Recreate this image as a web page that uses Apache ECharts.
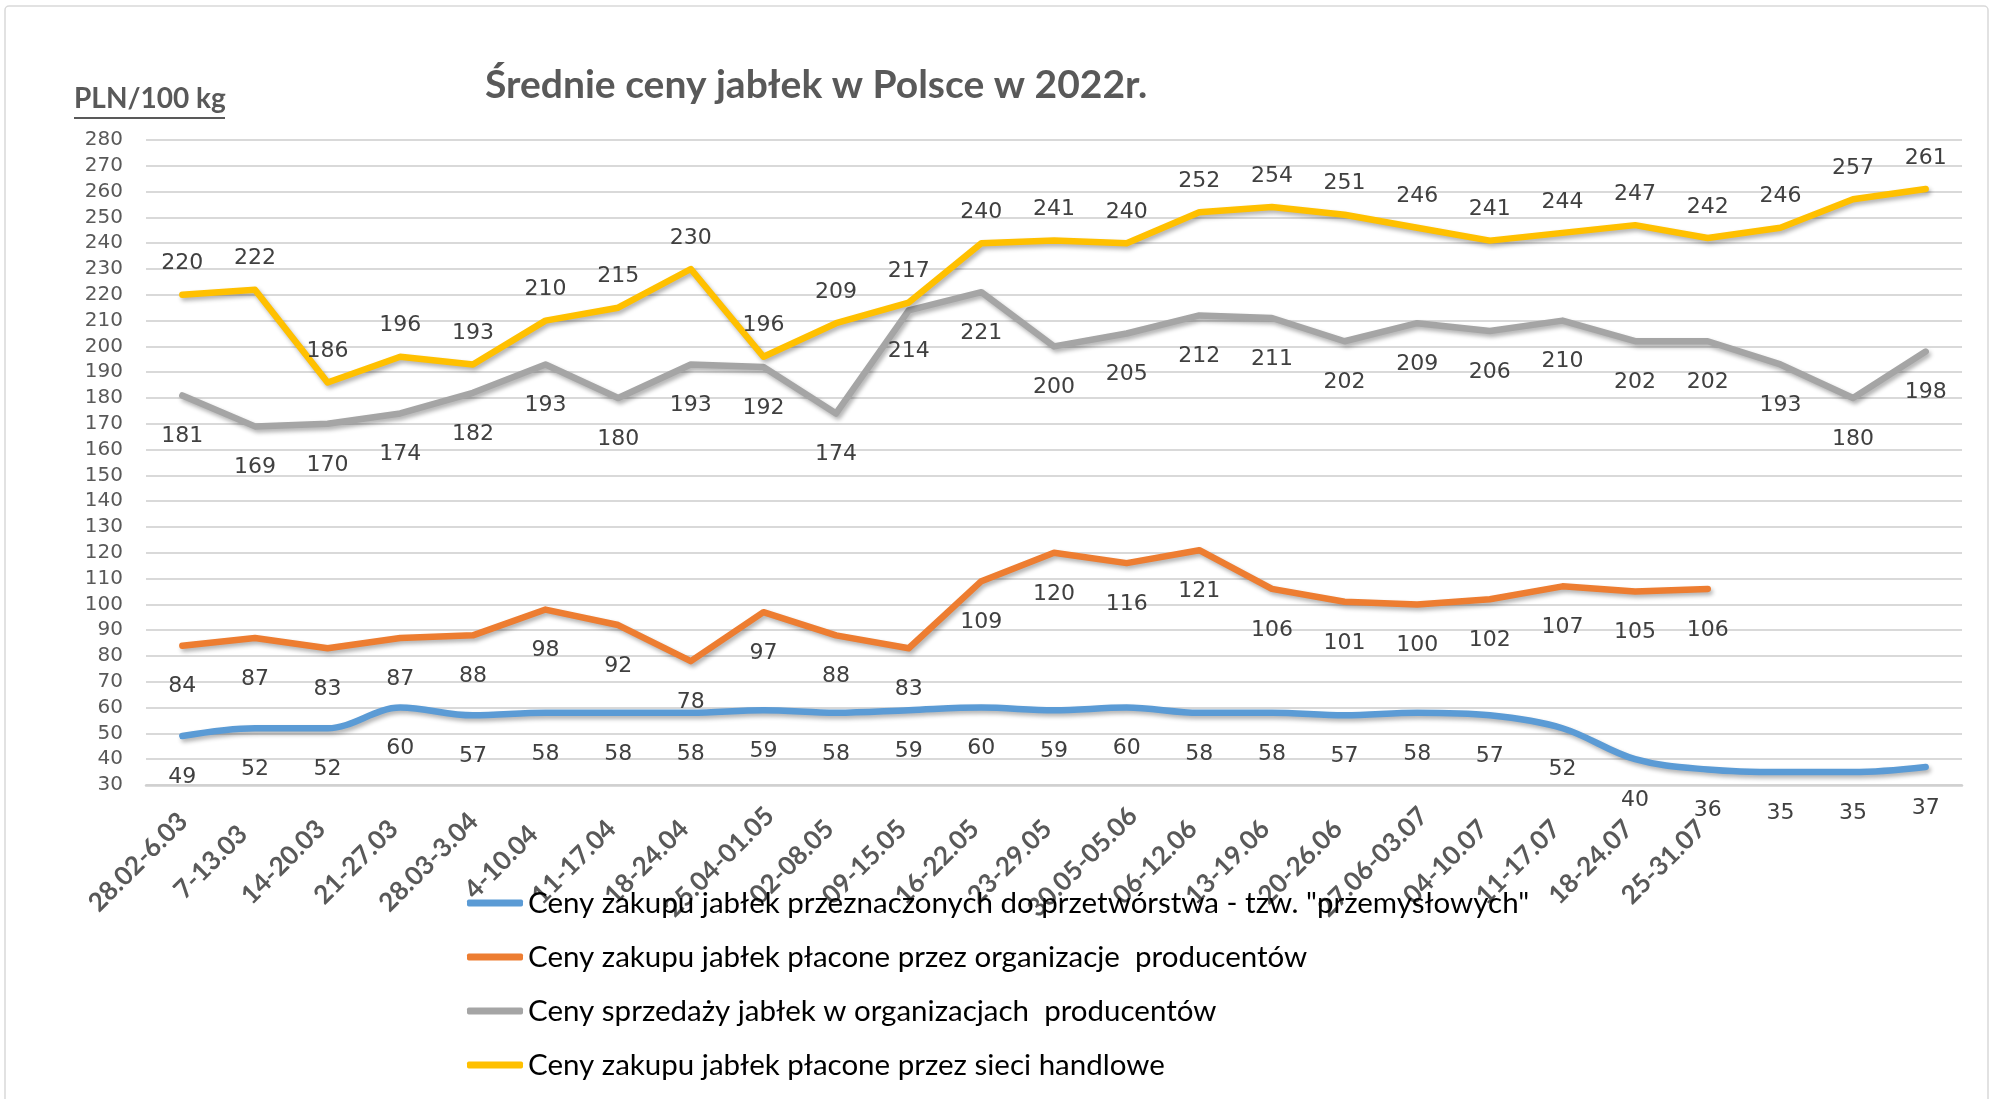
<!DOCTYPE html>
<html><head><meta charset="utf-8">
<script src="https://cdn.jsdelivr.net/npm/echarts@6/dist/echarts.min.js"></script>
<style>html,body{margin:0;padding:0;background:#fff}#c{width:1991px;height:1099px}</style>
</head><body><div id="c"></div>
<script>
const categories = ['28.02-6.03','7-13.03','14-20.03','21-27.03','28.03-3.04','4-10.04','11-17.04','18-24.04','25.04-01.05','02-08.05','09-15.05','16-22.05','23-29.05','30.05-05.06','06-12.06','13-19.06','20-26.06','27.06-03.07','04-10.07','11-17.07','18-24.07','25-31.07','','',''];
const seriesNames = ['Ceny zakupu jabłek przeznaczonych do przetwórstwa - tzw. "przemysłowych"','Ceny zakupu jabłek płacone przez organizacje  producentów','Ceny sprzedaży jabłek w organizacjach  producentów','Ceny zakupu jabłek płacone przez sieci handlowe'];
const industrial = [49,52,52,60,57,58,58,58,59,58,59,60,59,60,58,58,57,58,57,52,40,36,35,35,37];
const producerPurchase = [84,87,83,87,88,98,92,78,97,88,83,109,120,116,121,106,101,100,102,107,105,106,null,null,null];
const producerSales = [181,169,170,174,182,193,180,193,192,174,214,221,200,205,212,211,202,209,206,210,202,202,193,180,198];
const retail = [220,222,186,196,193,210,215,230,196,209,217,240,241,240,252,254,251,246,241,244,247,242,246,257,261];
const yMin = 30, yMax = 280, yStep = 10;
const colors = ['#5B9BD5','#ED7D31','#A5A5A5','#FFC000'];

const chart = echarts.init(document.getElementById('c'));
function mk(name, data, color, pos, dist, smooth){
  return {
    name, type:'line', data, smooth: smooth ? 0.35 : false, showSymbol:true, symbol:'circle', symbolSize:0.1,
    connectNulls:false,
    lineStyle:{color, width:6.5, cap:'round', join:'round', shadowColor:'rgba(0,0,0,0.3)', shadowBlur:4, shadowOffsetX:2, shadowOffsetY:3},
    itemStyle:{color},
    label:{show:true, position:pos, distance:dist, color:'#404040', fontFamily:'DejaVu Sans', fontSize:22},
    labelLayout:{hideOverlap:false},
    emphasis:{disabled:true}
  };
}
chart.setOption({
  animation:false,
  color: colors,
  graphic:[
    {type:'rect', shape:{x:5,y:6,width:1983,height:1100,r:4}, style:{fill:'none', stroke:'#D9D9D9', lineWidth:1.5}, z:-10},
    {type:'text', left:74, top:85, style:{text:'PLN/100 kg', font:'bold 28px Lato', fill:'#595959'}},
    {type:'rect', shape:{x:74,y:117,width:151,height:2}, style:{fill:'#595959'}}
  ],
  title:{text:'Średnie ceny jabłek w Polsce w 2022r.', left:480, top:61, textStyle:{fontFamily:'Lato', fontWeight:'bold', fontSize:39, color:'#595959'}},
  grid:{left:146, right:29, top:140, bottom:314, containLabel:false},
  legend:{
    orient:'vertical', left:462, top:883, itemWidth:56, itemHeight:7, itemGap:24, icon:'roundRect',
    data: seriesNames,
    textStyle:{fontFamily:'Lato', fontSize:29.5, color:'#000', lineHeight:30}
  },
  xAxis:{
    type:'category', data:categories, boundaryGap:true,
    axisLine:{lineStyle:{color:'#D0D0D0', width:2.5}},
    axisTick:{show:false},
    axisLabel:{interval:0, rotate:45, align:'center', verticalAlign:'middle', padding:[0,125,0,0], margin:33,
      fontFamily:'Lato', fontWeight:'bold', fontSize:26, color:'#595959'}
  },
  yAxis:{
    type:'value', min:yMin, max:yMax, interval:yStep,
    axisLine:{show:false}, axisTick:{show:false},
    splitLine:{lineStyle:{color:'#D9D9D9', width:2}},
    axisLabel:{margin:23, fontFamily:'DejaVu Sans', fontSize:20, color:'#595959'}
  },
  series:[
    mk(seriesNames[0], industrial, colors[0], 'bottom', 30, true),
    mk(seriesNames[1], producerPurchase, colors[1], 'bottom', 30, false),
    mk(seriesNames[2], producerSales, colors[2], 'bottom', 30, false),
    mk(seriesNames[3], retail, colors[3], 'top', 20, false)
  ]
});
</script></body></html>
